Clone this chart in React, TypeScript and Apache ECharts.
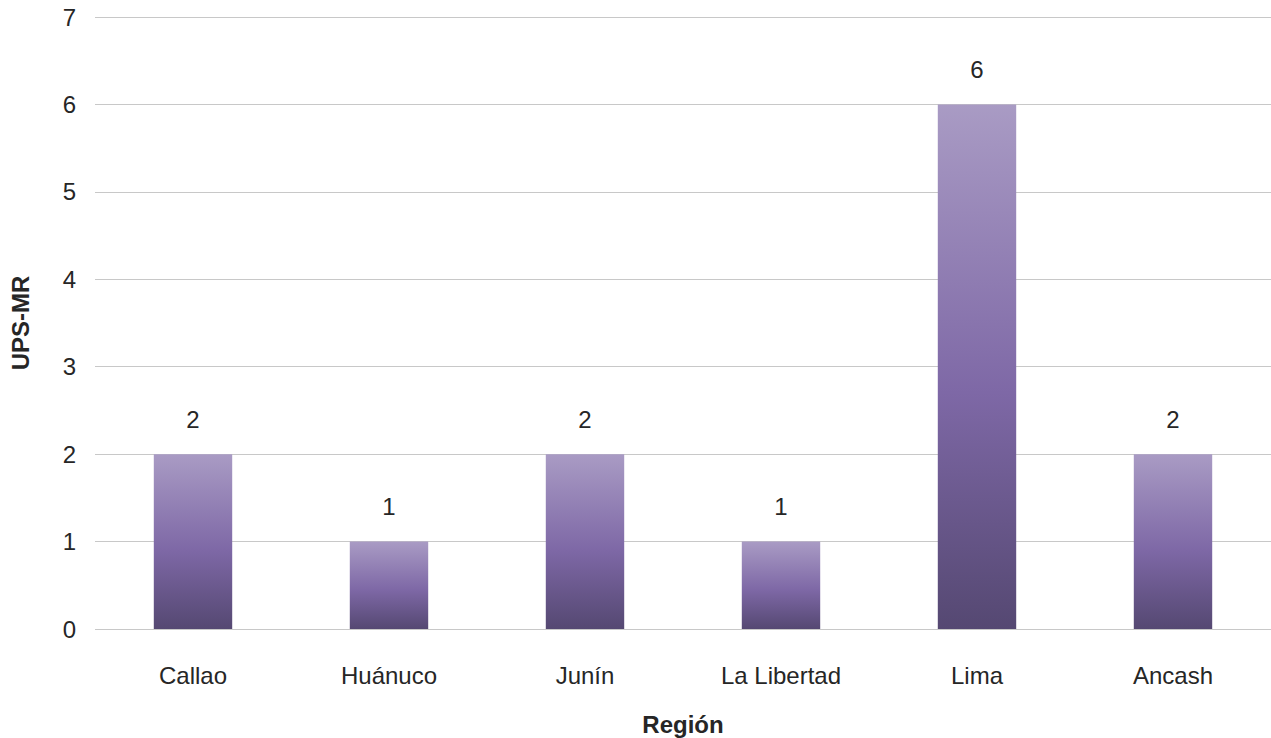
import React, { useEffect, useRef } from "react";
import * as echarts from "echarts";

const categories = ["Callao", "Huánuco", "Junín", "La Libertad", "Lima", "Ancash"];
const values = [2, 1, 2, 1, 6, 2];
const yTicks = [0, 1, 2, 3, 4, 5, 6, 7];

export default function App() {
  const ref = useRef<HTMLDivElement>(null);
  useEffect(() => {
    const chart = echarts.init(ref.current!, null, { renderer: "svg" });
    const font = "'Liberation Sans', Arial, sans-serif";
    chart.setOption({
      animation: false,
      backgroundColor: "#ffffff",
      grid: { left: 95, right: 0, top: 17, bottom: 109, outerBoundsMode: "none", containLabel: false },
      xAxis: {
        type: "category",
        data: categories,
        name: "Región",
        nameLocation: "middle",
        nameGap: 83,
        nameTextStyle: { fontFamily: font, fontSize: 24, fontWeight: "bold", color: "#262626", lineHeight: 24 },
        axisLine: { show: false },
        axisTick: { show: false },
        axisLabel: { fontFamily: font, fontSize: 24, color: "#262626", margin: 34 },
      },
      yAxis: {
        type: "value",
        min: yTicks[0],
        max: yTicks[yTicks.length - 1],
        interval: 1,
        name: "UPS-MR",
        nameLocation: "middle",
        nameGap: 63,
        nameTextStyle: { fontFamily: font, fontSize: 24, fontWeight: "bold", color: "#262626" },
        axisLine: { show: false },
        axisTick: { show: false },
        axisLabel: { fontFamily: font, fontSize: 24, color: "#262626", margin: 19 },
        splitLine: { lineStyle: { color: "#c8c8c8", width: 1 } },
      },
      series: [
        {
          type: "bar",
          data: values,
          barWidth: "40%",
          itemStyle: {
            color: new echarts.graphic.LinearGradient(0, 0, 0, 1, [
              { offset: 0, color: "#a99bc4" },
              { offset: 0.55, color: "#7e68a6" },
              { offset: 1, color: "#554872" },
            ]),
          },
          label: {
            show: true,
            position: "top",
            distance: 23,
            fontFamily: font,
            fontSize: 24,
            color: "#262626",
          },
        },
      ],
    });
    return () => chart.dispose();
  }, []);
  return (
    <div
      ref={ref}
      style={{ position: "fixed", left: 0, top: 0, width: 1271, height: 738 }}
    />
  );
}
